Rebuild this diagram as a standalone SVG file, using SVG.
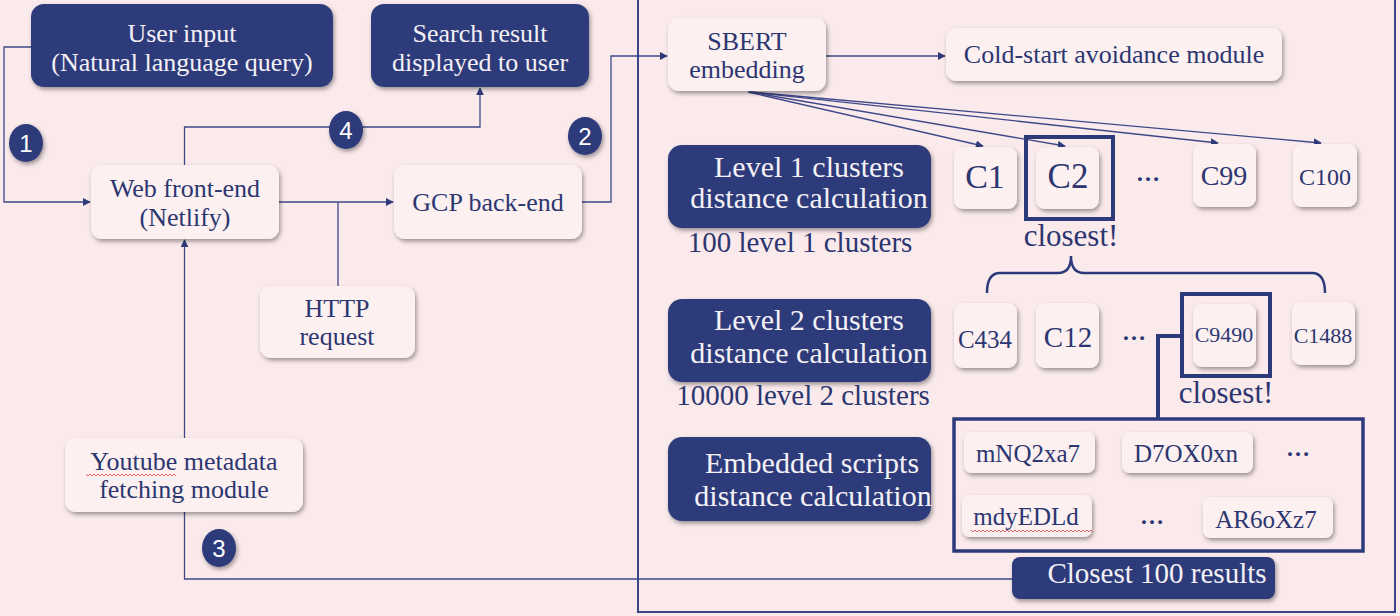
<svg xmlns="http://www.w3.org/2000/svg" width="1400" height="616" viewBox="0 0 1400 616">
<defs>
<filter id="sh" x="-20%" y="-20%" width="140%" height="150%">
<feDropShadow dx="1.5" dy="2.5" stdDeviation="2.2" flood-color="#000" flood-opacity="0.38"/>
</filter>
<marker id="ar" viewBox="0 0 10 10" refX="9" refY="5" markerWidth="8" markerHeight="8" markerUnits="userSpaceOnUse" orient="auto">
<path d="M0,0 L10,5 L0,10 z" fill="#2f3b7a"/>
</marker>
<style>
.lt{fill:#fcf0f1;filter:url(#sh)}
.dk{fill:#2d3a7a;filter:url(#sh)}
.t{font-family:"Liberation Serif","Times New Roman",serif;fill:#2c3670;text-anchor:middle}
.w{font-family:"Liberation Serif","Times New Roman",serif;fill:#f4f1f6;text-anchor:middle}
.n{font-family:"Liberation Sans",Arial,sans-serif;fill:#ffffff;text-anchor:middle;font-size:24px}
.c{fill:#2d3a7a;filter:url(#sh)}
.ln{fill:none;stroke:#3e4889;stroke-width:1.3}
.fr{fill:none;stroke:#2d3a7a}
.sq{fill:none;stroke:#d04040;stroke-width:0.8}
</style>
</defs>
<rect width="1400" height="616" fill="#fbeaec"/>
<rect x="638" y="-2" width="757" height="614" fill="none" stroke="#3b4587" stroke-width="2"/>

<g id="connectors">
<path class="ln" d="M31 47 H4 V202 H90" marker-end="url(#ar)"/>
<path class="ln" d="M184.5 165 V127 H480 V88" marker-end="url(#ar)"/>
<path class="ln" d="M279 202 H393" marker-end="url(#ar)"/>
<path class="ln" d="M338 202 V286"/>
<path class="ln" d="M582 202 H611 V56 H667" marker-end="url(#ar)"/>
<path class="ln" d="M184.5 438 V240" marker-end="url(#ar)"/>
<path class="ln" d="M184.5 512 V579 H1012"/>
<path class="ln" d="M826 56 H945" marker-end="url(#ar)"/>
<path class="ln" d="M748 92 L983 146" marker-end="url(#ar)"/>
<path class="ln" d="M749 92 L1065 146" marker-end="url(#ar)"/>
<path class="ln" d="M750 92 L1218 143" marker-end="url(#ar)"/>
<path class="ln" d="M751 92 L1321 143" marker-end="url(#ar)"/>
<path fill="none" stroke="#2d3a7a" stroke-width="2.5" d="M987 293 Q987 273 1000 273 L1058 273 Q1071 273 1071 256 Q1071 273 1084 273 L1312 273 Q1325 273 1325 293"/>
<path fill="none" stroke="#2d3a7a" stroke-width="4" d="M1181 336 H1158 V419"/>
</g>

<g id="user-input"><rect class="dk" x="31" y="4" width="302" height="83" rx="13"/>
<text class="w" font-size="26" x="182" y="42">User input</text>
<text class="w" font-size="26" x="182" y="71">(Natural language query)</text></g>

<g id="search-result"><rect class="dk" x="371" y="4" width="218" height="83" rx="13"/>
<text class="w" font-size="26" x="480" y="42">Search result</text>
<text class="w" font-size="26" x="480" y="71">displayed to user</text></g>

<g id="web-frontend"><rect class="lt" x="91" y="165" width="188" height="74" rx="11"/>
<text class="t" font-size="26" x="185" y="197">Web front-end</text>
<text class="t" font-size="26" x="185" y="226">(Netlify)</text></g>

<g id="gcp-backend"><rect class="lt" x="394" y="165" width="188" height="74" rx="11"/>
<text class="t" font-size="26" x="488" y="211">GCP back-end</text></g>

<g id="http-request"><rect class="lt" x="260" y="286" width="155" height="72" rx="11"/>
<text class="t" font-size="26" x="337" y="317">HTTP</text>
<text class="t" font-size="26" x="337" y="345">request</text></g>

<g id="youtube-module"><rect class="lt" x="65" y="438" width="238" height="74" rx="11"/>
<text class="t" font-size="26" x="184" y="470">Youtube metadata</text>
<text class="t" font-size="26" x="184" y="498">fetching module</text>
<path class="sq" d="M86 474 l2 2 l2 -2 l2 2 l2 -2 l2 2 l2 -2 l2 2 l2 -2 l2 2 l2 -2 l2 2 l2 -2 l2 2 l2 -2 l2 2 l2 -2 l2 2 l2 -2 l2 2 l2 -2 l2 2 l2 -2 l2 2 l2 -2 l2 2 l2 -2 l2 2 l2 -2 l2 2 l2 -2 l2 2 l2 -2 l2 2 l2 -2 l2 2 l2 -2 l2 2 l2 -2 l2 2 l2 -2 l2 2 l2 -2 l2 2 l2 -2 l2 2"/></g>

<g id="step-1"><ellipse class="c" cx="26" cy="143" rx="17" ry="19"/><text class="n" x="26" y="152">1</text></g>
<g id="step-2"><ellipse class="c" cx="585" cy="136" rx="17" ry="19"/><text class="n" x="585" y="145">2</text></g>
<g id="step-3"><ellipse class="c" cx="219" cy="548" rx="17" ry="19"/><text class="n" x="219" y="557">3</text></g>
<g id="step-4"><ellipse class="c" cx="346" cy="130" rx="17" ry="19"/><text class="n" x="346" y="139">4</text></g>

<g id="sbert"><rect class="lt" x="668" y="18" width="158" height="73" rx="11"/>
<text class="t" font-size="26" x="747" y="50">SBERT</text>
<text class="t" font-size="26" x="747" y="78">embedding</text></g>

<g id="cold-start"><rect class="lt" x="946" y="28" width="336" height="53" rx="10"/>
<text class="t" font-size="26" x="1114" y="63">Cold-start avoidance module</text></g>

<g id="level1"><rect class="dk" x="668" y="145" width="263" height="83" rx="14"/>
<text class="w" font-size="30" x="809" y="177">Level 1 clusters</text>
<text class="w" font-size="30" x="809" y="208">distance calculation</text></g>
<text class="t" font-size="29" x="800" y="252">100 level 1 clusters</text>

<g id="c1"><rect class="lt" x="954" y="147" width="63" height="62" rx="9"/><text class="t" font-size="34" x="985" y="188">C1</text></g>
<g id="c2"><rect class="lt" x="1036" y="147" width="63" height="62" rx="9"/><text class="t" font-size="35" x="1068" y="188">C2</text>
<rect class="fr" stroke-width="4" x="1026" y="137" width="87" height="82"/></g>
<text class="t" font-size="24" font-weight="bold" x="1148" y="181">…</text>
<g id="c99"><rect class="lt" x="1193" y="144" width="63" height="63" rx="9"/><text class="t" font-size="28" x="1224" y="185">C99</text></g>
<g id="c100"><rect class="lt" x="1293" y="144" width="64" height="63" rx="9"/><text class="t" font-size="24" x="1325" y="185">C100</text></g>
<text class="t" font-size="31" x="1071" y="246">closest!</text>

<g id="level2"><rect class="dk" x="668" y="299" width="263" height="83" rx="14"/>
<text class="w" font-size="30" x="809" y="330">Level 2 clusters</text>
<text class="w" font-size="30" x="809" y="363">distance calculation</text></g>
<text class="t" font-size="29" x="803" y="405">10000 level 2 clusters</text>

<g id="c434"><rect class="lt" x="954" y="303" width="63" height="65" rx="9"/><text class="t" font-size="25" x="985" y="348">C434</text></g>
<g id="c12"><rect class="lt" x="1036" y="303" width="63" height="65" rx="9"/><text class="t" font-size="29" x="1068" y="347">C12</text></g>
<text class="t" font-size="24" font-weight="bold" x="1134" y="340">…</text>
<g id="c9490"><rect class="lt" x="1193" y="304" width="63" height="63" rx="9"/><text class="t" font-size="22" x="1224" y="342">C9490</text>
<rect class="fr" stroke-width="4" x="1182" y="294" width="88" height="82"/></g>
<g id="c1488"><rect class="lt" x="1292" y="302" width="63" height="63" rx="9"/><text class="t" font-size="22" x="1323" y="343">C1488</text></g>
<text class="t" font-size="31" x="1226" y="403">closest!</text>

<g id="embedded"><rect class="dk" x="668" y="437" width="263" height="84" rx="14"/>
<text class="w" font-size="30" x="812" y="473">Embedded scripts</text>
<text class="w" font-size="30" x="813" y="506">distance calculation</text></g>

<g id="scripts"><rect class="fr" stroke-width="3.5" x="954" y="419" width="409" height="132"/>
<rect class="lt" x="964" y="432" width="131" height="41" rx="8"/><text class="t" font-size="25" x="1028" y="462">mNQ2xa7</text>
<rect class="lt" x="1122" y="432" width="131" height="41" rx="8"/><text class="t" font-size="25" x="1186" y="462">D7OX0xn</text>
<text class="t" font-size="24" font-weight="bold" x="1298" y="456">…</text>
<rect class="lt" x="962" y="495" width="130" height="42" rx="8"/><text class="t" font-size="25" x="1026" y="525">mdyEDLd</text>
<path class="sq" d="M971 530 l2 2 l2 -2 l2 2 l2 -2 l2 2 l2 -2 l2 2 l2 -2 l2 2 l2 -2 l2 2 l2 -2 l2 2 l2 -2 l2 2 l2 -2 l2 2 l2 -2 l2 2 l2 -2 l2 2 l2 -2 l2 2 l2 -2 l2 2 l2 -2 l2 2 l2 -2 l2 2 l2 -2 l2 2 l2 -2 l2 2 l2 -2 l2 2 l2 -2 l2 2 l2 -2 l2 2 l2 -2 l2 2 l2 -2 l2 2 l2 -2 l2 2 l2 -2 l2 2 l2 -2 l2 2 l2 -2 l2 2 l2 -2 l2 2 l2 -2 l2 2 l2 -2 l2 2 l2 -2 l2 2 l2 -2 l2 2"/>
<text class="t" font-size="24" font-weight="bold" x="1152" y="524">…</text>
<rect class="lt" x="1203" y="497" width="130" height="41" rx="8"/><text class="t" font-size="25" x="1266" y="528">AR6oXz7</text></g>

<g id="closest-100"><rect class="dk" x="1012" y="557" width="263" height="42" rx="8"/>
<text class="w" font-size="29" x="1157" y="583">Closest 100 results</text></g>
</svg>
